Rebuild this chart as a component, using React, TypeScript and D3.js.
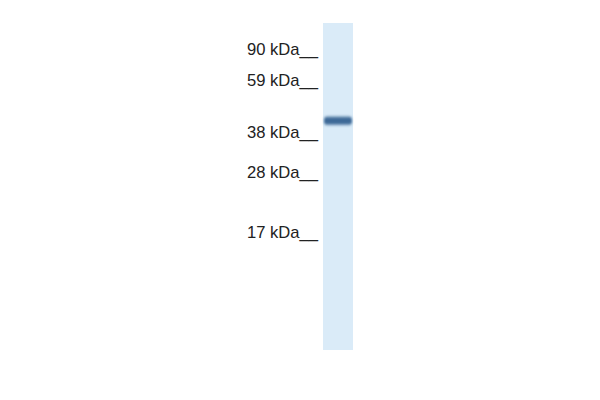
import { useRef, useEffect } from "react"
import * as d3 from "d3"

// marker ladder (kDa) and where each label sits on the blot
const markerSizes = [90, 59, 38, 28, 17]
const markerLabels = ["90 kDa__", "59 kDa__", "38 kDa__", "28 kDa__", "17 kDa__"]
const markerRows = [55, 86, 138, 178, 238]

// detected bands in the single lane
const bandSizes = [45]
const bandIntensity = [0.9]

export default function App() {
  const svgRef = useRef<SVGSVGElement>(null)

  useEffect(() => {
    if (!svgRef.current) return
    const svg = d3.select(svgRef.current)
    svg.selectAll("*").remove()

    const width = 600
    const height = 400

    // piecewise kDa -> y, the gel is not quite log-linear
    const y = d3.scaleLinear().domain(markerSizes).range(markerRows)
    const lane = { x0: 323, x1: 353, top: 23, bottom: 350 }

    svg.append("rect").attr("width", width).attr("height", height).attr("fill", "#ffffff")

    const defs = svg.append("defs")
    defs
      .append("filter")
      .attr("id", "band-blur")
      .attr("x", "-20%")
      .attr("y", "-100%")
      .attr("width", "140%")
      .attr("height", "300%")
      .append("feGaussianBlur")
      .attr("stdDeviation", "1.2 1.6")

    // lane background
    svg
      .append("rect")
      .attr("x", lane.x0)
      .attr("y", lane.top)
      .attr("width", lane.x1 - lane.x0)
      .attr("height", lane.bottom - lane.top)
      .attr("fill", "#daebf8")

    const band = d3.scaleLinear<string>().domain([0, 1]).range(["#daebf8", "#2c5a8c"])

    svg
      .append("g")
      .selectAll("rect")
      .data(bandSizes)
      .join("rect")
      .attr("x", lane.x0 + 1)
      .attr("y", (d) => y(d) - 4)
      .attr("width", lane.x1 - lane.x0 - 2)
      .attr("height", 8)
      .attr("rx", 3)
      .attr("fill", (d, i) => band(bandIntensity[i]))
      .attr("filter", "url(#band-blur)")

    // marker labels
    svg
      .append("g")
      .selectAll("text")
      .data(markerSizes)
      .join("text")
      .attr("x", 318)
      .attr("y", (d) => y(d))
      .attr("text-anchor", "end")
      .attr("font-family", "'Liberation Sans', Arial, sans-serif")
      .attr("font-size", "16.6px")
      .attr("fill", "#222222")
      .text((d, i) => markerLabels[i])
  }, [])

  return (
    <svg
      ref={svgRef}
      width={600}
      height={400}
      style={{ position: "absolute", left: 0, top: 0, display: "block" }}
    />
  )
}
